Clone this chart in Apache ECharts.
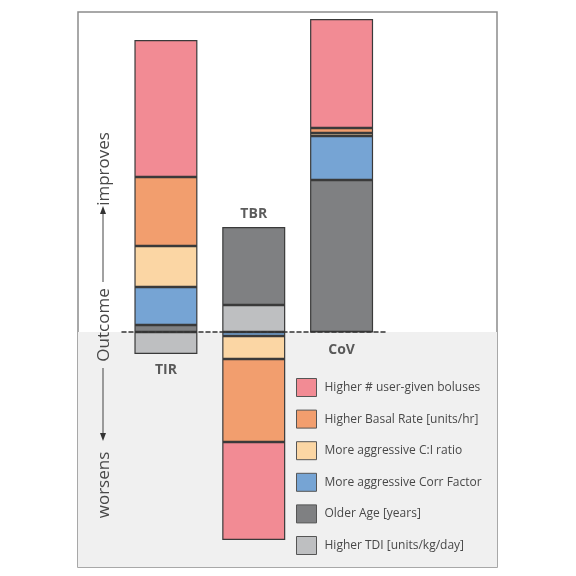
<!DOCTYPE html>
<html>
<head>
<meta charset="utf-8">
<script src="https://cdn.jsdelivr.net/npm/echarts@6/dist/echarts.min.js"></script>
<style>html,body{margin:0;padding:0;background:#fff}#c{width:576px;height:576px}</style>
</head>
<body>
<div id="c"></div>
<script>
// ---- data ----
const categories = ['TIR', 'TBR', 'CoV'];
const seriesNames = [
  'Higher TDI [units/kg/day]',
  'Older Age [years]',
  'More aggressive Corr Factor',
  'More aggressive C:I ratio',
  'Higher Basal Rate [units/hr]',
  'Higher # user-given boluses'
];
const tdiValues     = [-22, 27, 0];
const ageValues     = [7, 78, 152];
const corrValues    = [38, -4, 44];
const ciValues      = [41, -23, 3];
const basalValues   = [69, -83, 5];
const bolusValues   = [137, -98, 109];
const legendOrder = [
  'Higher # user-given boluses',
  'Higher Basal Rate [units/hr]',
  'More aggressive C:I ratio',
  'More aggressive Corr Factor',
  'Older Age [years]',
  'Higher TDI [units/kg/day]'
];
const axisMin = -235, axisMax = 320;

// ---- styles ----
const colors = ['#bebfc1', '#7f8082', '#76a4d4', '#fbd6a4', '#f29e6e', '#f28b94'];
const allValues = [tdiValues, ageValues, corrValues, ciValues, basalValues, bolusValues];

const barSeries = seriesNames.map((n, i) => ({
  name: n,
  type: 'bar',
  xAxisIndex: 1,
  yAxisIndex: 1,
  stack: 'all',
  barWidth: 63,
  data: allValues[i],
  itemStyle: { color: colors[i], borderColor: '#3a3a3a', borderWidth: 1.2 },
  emphasis: { disabled: true },
  z: 3
}));

// label anchors: per category, below the negative end or above the positive end
const labelSide = ['bottom', 'top', 'bottom'];
const labelDist = [9, 6, 11];
const labelData = categories.map((c, i) => {
  let pos = 0, neg = 0;
  allValues.forEach(a => { if (a[i] > 0) pos += a[i]; else neg += a[i]; });
  return {
    value: [c, labelSide[i] === 'top' ? pos : neg],
    label: { position: labelSide[i], distance: labelDist[i] }
  };
});

const chart = echarts.init(document.getElementById('c'), null, { renderer: 'canvas' });

const ax = 104;
const axisTextStyle = { fill: '#484848', font: '17px "Open Sans"', align: 'center', verticalAlign: 'middle' };

chart.setOption({
  animation: false,
  grid: [
    { left: 78, top: 12, width: 419, height: 555, show: true, borderColor: '#8c8c8c', borderWidth: 1.5, backgroundColor: '#ffffff' },
    { left: 122, top: 12, width: 263.5, height: 555 }
  ],
  xAxis: [
    { gridIndex: 0, type: 'value', min: 0, max: 1, show: false },
    {
      gridIndex: 1, type: 'category', data: categories,
      axisLine: { show: true, onZero: true, lineStyle: { color: '#333', width: 1.5, type: [4, 3] } },
      axisTick: { show: false }, axisLabel: { show: false }, splitLine: { show: false }, z: 5
    }
  ],
  yAxis: [
    { gridIndex: 0, type: 'value', min: axisMin, max: axisMax, show: false },
    { gridIndex: 1, type: 'value', min: axisMin, max: axisMax, show: false }
  ],
  legend: {
    orient: 'vertical',
    left: 296,
    top: 378,
    padding: 0,
    itemWidth: 20,
    itemHeight: 18,
    itemGap: 12.6,
    icon: 'rect',
    data: legendOrder,
    selectedMode: false,
    itemStyle: { borderColor: '#555', borderWidth: 1 },
    textStyle: { fontFamily: 'Open Sans', fontSize: 12, color: '#484848', padding: [0, 0, 0, 3] }
  },
  series: [
    {
      type: 'line', xAxisIndex: 0, yAxisIndex: 0, data: [], silent: true,
      markArea: {
        silent: true,
        itemStyle: { color: '#f0f0f0' },
        data: [[{ yAxis: axisMin }, { yAxis: 0 }]]
      },
      z: 1
    },
    ...barSeries,
    {
      type: 'scatter', xAxisIndex: 1, yAxisIndex: 1, symbolSize: 0, silent: true,
      data: labelData,
      label: {
        show: true,
        formatter: p => p.value[0],
        fontFamily: 'Open Sans', fontWeight: 'bold', fontSize: 14, color: '#333'
      },
      z: 6
    }
  ],
  graphic: [
    { type: 'text', z: 100, x: ax, y: 169, rotation: Math.PI / 2, style: Object.assign({ text: 'improves' }, axisTextStyle) },
    { type: 'text', z: 100, x: ax, y: 325, rotation: Math.PI / 2, style: Object.assign({ text: 'Outcome' }, axisTextStyle) },
    { type: 'text', z: 100, x: ax, y: 485, rotation: Math.PI / 2, style: Object.assign({ text: 'worsens' }, axisTextStyle) },
    { type: 'line', z: 100, shape: { x1: ax - 1, y1: 282, x2: ax - 1, y2: 212 }, style: { stroke: '#444', lineWidth: 1 } },
    { type: 'polygon', z: 100, shape: { points: [[ax - 1, 206], [ax - 4, 214], [ax + 2, 214]] }, style: { fill: '#333' } },
    { type: 'line', z: 100, shape: { x1: ax - 1, y1: 368, x2: ax - 1, y2: 434 }, style: { stroke: '#444', lineWidth: 1 } },
    { type: 'polygon', z: 100, shape: { points: [[ax - 1, 441], [ax - 4, 433], [ax + 2, 433]] }, style: { fill: '#333' } }
  ]
});
</script>
</body>
</html>
